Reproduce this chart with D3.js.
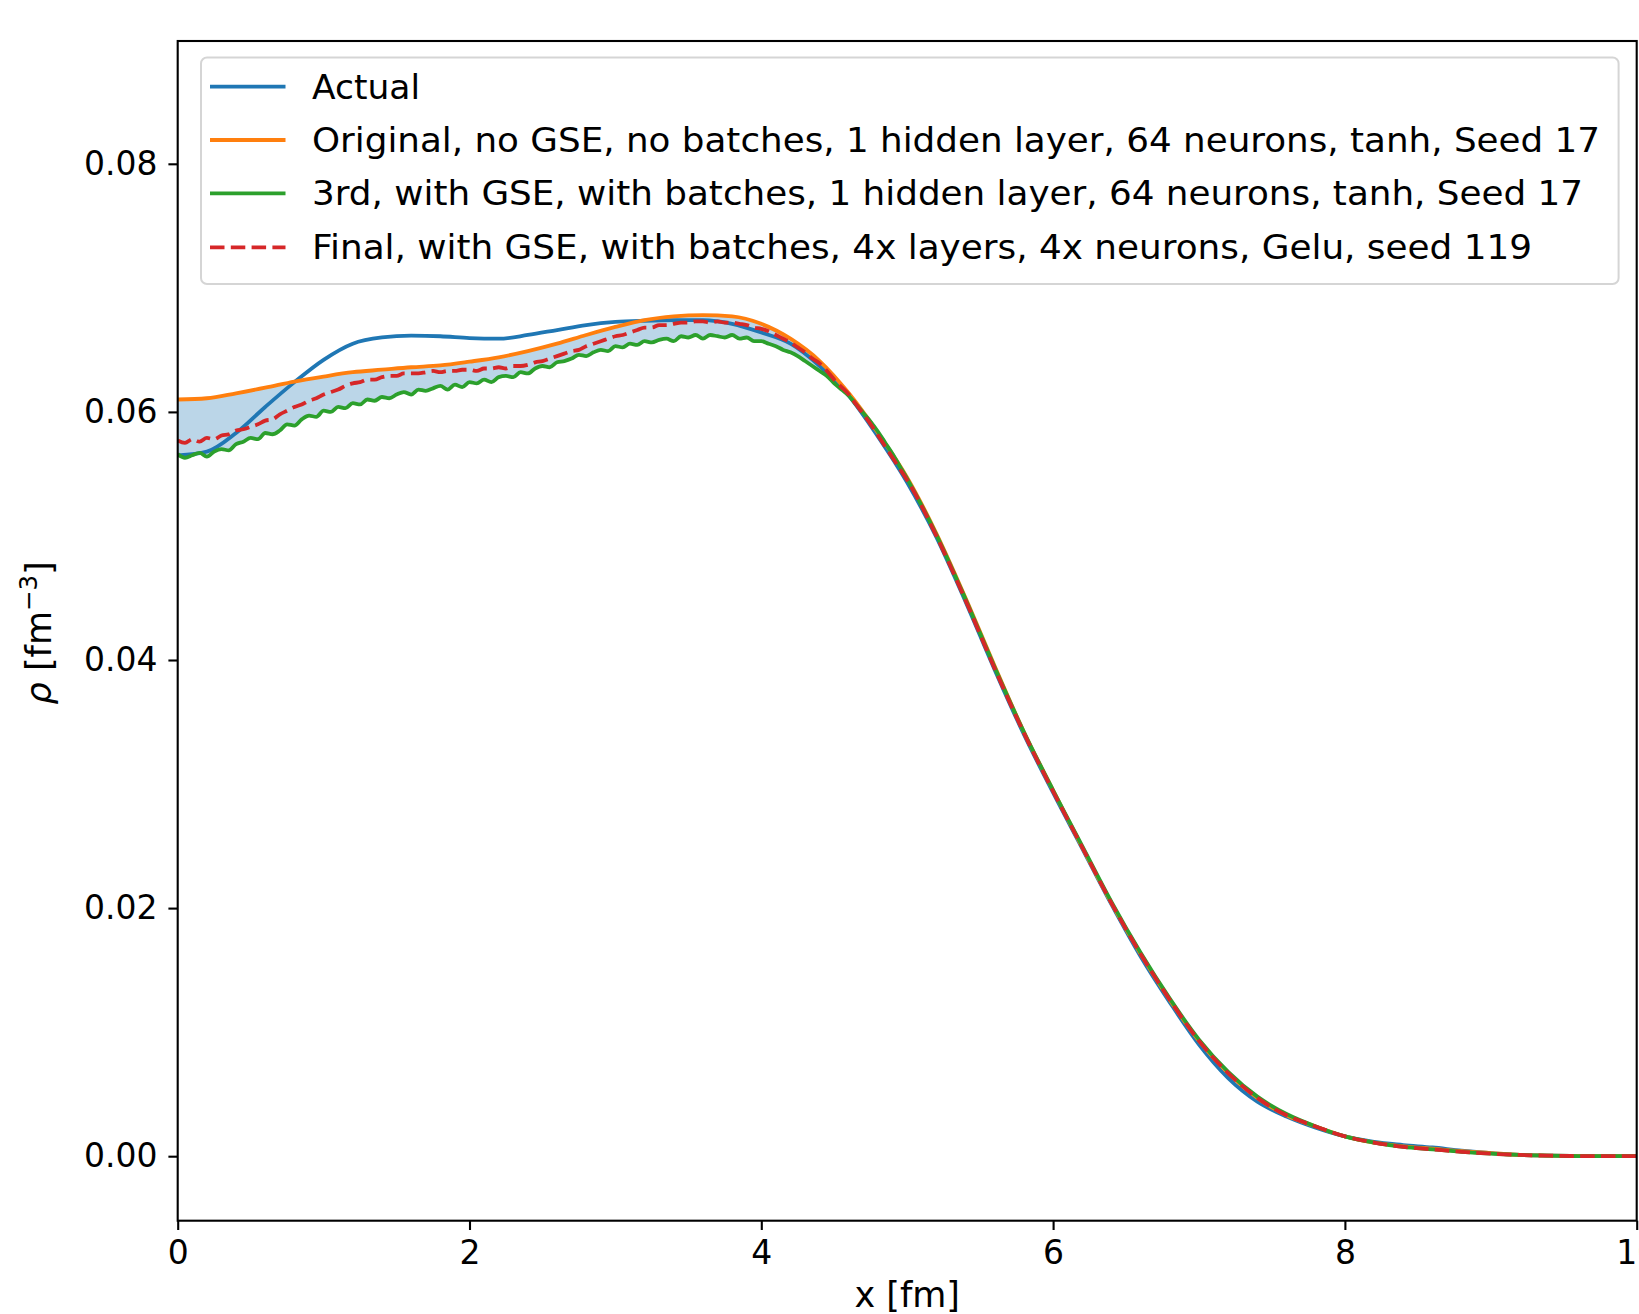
<!DOCTYPE html>
<html>
<head>
<meta charset="utf-8">
<script src="https://cdn.jsdelivr.net/npm/d3@7"></script>
<style>
  html, body { margin: 0; padding: 0; background: #fff; }
  svg { display: block; }
  text { font-family: "DejaVu Sans", sans-serif; fill: #000; }
</style>
</head>
<body>
<script>
// Nuclear density profiles rho(x): reference density and three network fits.

// Grid for the smooth curves (step 0.2 fm)
const xSmooth = d3.range(51).map(i => i * 0.2);
// Grid for the noisy fits: 0..5 fm at 0.05 fm, then 5.2..10 fm at 0.2 fm
const xFine = d3.range(101).map(i => i * 0.05).concat(d3.range(1, 26).map(i => 5 + i * 0.2));

const actual = [
  0.0565, 0.0568, 0.0583, 0.0604, 0.0624, 0.0642, 0.0655, 0.0660, 0.06615, 0.0661,
  0.06595, 0.0659, 0.0662, 0.0666, 0.0670, 0.06725, 0.06735, 0.0674, 0.0674, 0.0671,
  0.0664, 0.0655, 0.0637, 0.0613, 0.0580, 0.0543, 0.0499, 0.0447, 0.0392, 0.0340,
  0.0293, 0.0248, 0.0203, 0.0161, 0.0124, 0.0090, 0.0063, 0.0044, 0.0032, 0.0023,
  0.0016, 0.00115, 0.0009, 0.0007, 0.00045, 0.00025, 0.0001, 0.00005, 0.00002, 0.00001,
  0
];

const original = [
  0.0610, 0.0611, 0.0615, 0.06195, 0.06245, 0.06285, 0.0632, 0.0634, 0.0636, 0.06375,
  0.06405, 0.0644, 0.0649, 0.0655, 0.0662, 0.06685, 0.0674, 0.0677, 0.0678, 0.0677,
  0.0671, 0.0659, 0.0641, 0.0615, 0.0583, 0.0547, 0.0502, 0.0450, 0.0395, 0.0342,
  0.0295, 0.0249, 0.0204, 0.0163, 0.0126, 0.0093, 0.0067, 0.0047, 0.0033, 0.0024,
  0.0016, 0.0011, 0.0008, 0.0006, 0.0004, 0.00025, 0.0001, 0.00005, 0.00002, 0.00001,
  0
];

const third = [
  0.0566, 0.0563, 0.0565, 0.0567, 0.0564, 0.0568, 0.0570, 0.0569, 0.0574, 0.0576,
  0.0579, 0.0578, 0.0583, 0.0582, 0.0585, 0.0590, 0.0589, 0.0594, 0.0597, 0.0596,
  0.0601, 0.0600, 0.0604, 0.0603, 0.0607, 0.0606, 0.0610, 0.0609, 0.0612, 0.0611,
  0.0614, 0.0616, 0.0614, 0.0618, 0.0617, 0.0619, 0.0621, 0.0618, 0.0622, 0.0620,
  0.0624, 0.0623, 0.0626, 0.0624, 0.0628, 0.0629, 0.0628, 0.0632, 0.0631, 0.0635,
  0.0637, 0.0636, 0.0640, 0.0641, 0.0643, 0.0646, 0.0645, 0.0648, 0.0650, 0.0649,
  0.0653, 0.0652, 0.0655, 0.0654, 0.0657, 0.0656, 0.0658, 0.0659, 0.0657, 0.0661,
  0.0660, 0.0662, 0.0659, 0.0662, 0.0661, 0.0660, 0.0662, 0.0659, 0.0660, 0.0657,
  0.0657, 0.0655, 0.0653, 0.0650, 0.0648, 0.0645, 0.0641, 0.0637, 0.0633, 0.0629,
  0.0623, 0.0618, 0.0613, 0.0606, 0.0599, 0.0592, 0.0584, 0.0575, 0.0566, 0.0556,
  0.0546,
  0.0501, 0.0449, 0.0394, 0.0342, 0.0295, 0.0250, 0.0205, 0.0164, 0.0127, 0.0094,
  0.0068, 0.0048, 0.0034, 0.0024, 0.0016, 0.0011, 0.00075, 0.00055, 0.00035, 0.0002,
  0.0001, 0.00004, 0.00001, 0, 0
];

const finalFit = [
  0.0577, 0.0575, 0.0578, 0.0576, 0.0579, 0.0578, 0.0581, 0.0582, 0.0585, 0.0586,
  0.0588, 0.0590, 0.0593, 0.0594, 0.0598, 0.0601, 0.0604, 0.0606, 0.0609, 0.0611,
  0.0614, 0.0616, 0.0618, 0.0621, 0.0623, 0.0624, 0.0626, 0.0626, 0.0628, 0.0629,
  0.0629, 0.0631, 0.0631, 0.0631, 0.0632, 0.0633, 0.0632, 0.0633, 0.0633, 0.0634,
  0.0634, 0.0633, 0.0635, 0.0635, 0.0636, 0.0635, 0.0637, 0.0637, 0.0638, 0.0640,
  0.0641, 0.0643, 0.0645, 0.0647, 0.0649, 0.0650, 0.0653, 0.0655, 0.0657, 0.0659,
  0.0661, 0.0662, 0.0664, 0.0666, 0.0668, 0.0668, 0.0670, 0.0670, 0.0671, 0.0672,
  0.0672, 0.0673, 0.0673, 0.0672, 0.0673, 0.0672, 0.0672, 0.0671, 0.0670, 0.0668,
  0.0667, 0.0665, 0.0662, 0.0659, 0.0656, 0.0652, 0.0648, 0.0643, 0.0639, 0.0633,
  0.0626, 0.0620, 0.0614, 0.0606, 0.0598, 0.0590, 0.0581, 0.0572, 0.0563, 0.0554,
  0.0545,
  0.0500, 0.0448, 0.0393, 0.0341, 0.0294, 0.0249, 0.0204, 0.0163, 0.0126, 0.0093,
  0.0067, 0.0047, 0.0033, 0.0024, 0.0016, 0.0011, 0.00075, 0.00055, 0.00035, 0.0002,
  0.0001, 0.00004, 0.00001, 0, 0
];

const xTicks = [0, 2, 4, 6, 8, 10];
const yTicks = [0.00, 0.02, 0.04, 0.06, 0.08];

const legendLabels = [
  "Actual",
  "Original, no GSE, no batches, 1 hidden layer, 64 neurons, tanh, Seed 17",
  "3rd, with GSE, with batches, 1 hidden layer, 64 neurons, tanh, Seed 17",
  "Final, with GSE, with batches, 4x layers, 4x neurons, Gelu, seed 119"
];
const legendWidths = [108, 1288, 1271, 1220];
const colors = ["#1f77b4", "#ff7f0e", "#2ca02c", "#d62728"];

const W = 1639, H = 1314;
const plot = { left: 177.7, right: 1636.7, top: 41, bottom: 1220.7 };
const FONT_TICK = 33;
const FONT_LABEL = 35;
const FONT_LEGEND = 34.5;
const LW = 3.8;
const DASH = "14.5,6.3";

const svg = d3.select("body").append("svg").attr("width", W).attr("height", H);

const x = d3.scaleLinear().domain([0, 10]).range([plot.left, plot.right]);
const y = d3.scaleLinear().domain([-0.0052, 0.0899]).range([plot.bottom, plot.top]);

svg.append("clipPath").attr("id", "plotclip")
  .append("rect").attr("x", plot.left).attr("y", plot.top)
  .attr("width", plot.right - plot.left).attr("height", plot.bottom - plot.top);

const g = svg.append("g").attr("clip-path", "url(#plotclip)");

const pts = (xs, ys) => xs.map((v, i) => [v, ys[i]]);
const curveLine = d3.line().x(d => x(d[0])).y(d => y(d[1])).curve(d3.curveMonotoneX);
const rawLine = d3.line().x(d => x(d[0])).y(d => y(d[1]));

// Shaded band between the upper (original) and lower (3rd) fits
const upper = curveLine(pts(xSmooth, original));
const lower = rawLine(pts(xFine, third).reverse());
g.append("path")
  .attr("d", upper + "L" + lower.slice(1) + "Z")
  .attr("fill", "#1f77b4").attr("fill-opacity", 0.3).attr("stroke", "none");

g.append("path").attr("d", curveLine(pts(xSmooth, actual)))
  .attr("fill", "none").attr("stroke", colors[0]).attr("stroke-width", LW);
g.append("path").attr("d", curveLine(pts(xSmooth, original)))
  .attr("fill", "none").attr("stroke", colors[1]).attr("stroke-width", LW);
g.append("path").attr("d", curveLine(pts(xFine, third)))
  .attr("fill", "none").attr("stroke", colors[2]).attr("stroke-width", LW)
  .attr("stroke-linejoin", "round");
g.append("path").attr("d", curveLine(pts(xFine, finalFit)))
  .attr("fill", "none").attr("stroke", colors[3]).attr("stroke-width", LW)
  .attr("stroke-dasharray", DASH);

// Axes
const xAxis = d3.axisBottom(x).tickValues(xTicks).tickFormat(d3.format("d"))
  .tickSize(9.3).tickPadding(11);
const yAxis = d3.axisLeft(y).tickValues(yTicks).tickFormat(d3.format(".2f"))
  .tickSize(9.3).tickPadding(11);

const gx = svg.append("g").attr("transform", `translate(0,${plot.bottom})`).call(xAxis);
const gy = svg.append("g").attr("transform", `translate(${plot.left},0)`).call(yAxis);
[gx, gy].forEach(a => {
  a.select(".domain").remove();
  a.selectAll(".tick line").attr("stroke", "#000").attr("stroke-width", 2.1);
  a.selectAll(".tick text").attr("font-size", FONT_TICK).attr("font-family", "DejaVu Sans").attr("fill", "#000");
});

// Frame
svg.append("rect")
  .attr("x", plot.left).attr("y", plot.top)
  .attr("width", plot.right - plot.left).attr("height", plot.bottom - plot.top)
  .attr("fill", "none").attr("stroke", "#000").attr("stroke-width", 2.1);

// Axis labels
svg.append("text")
  .attr("x", (plot.left + plot.right) / 2).attr("y", 1307)
  .attr("text-anchor", "middle").attr("font-size", FONT_LABEL)
  .text("x [fm]");

const yl = svg.append("text")
  .attr("transform", `translate(51,${(plot.top + plot.bottom) / 2 + 2}) rotate(-90)`)
  .attr("text-anchor", "middle").attr("font-size", FONT_LABEL);
yl.append("tspan").attr("font-style", "italic").text("ρ");
yl.append("tspan").text(" [fm");
yl.append("tspan").attr("font-size", FONT_LABEL * 0.7).attr("dy", -14).text("−3");
yl.append("tspan").attr("dy", 14).text("]");

// Legend
const leg = { x: 201, y: 57.5, w: 1417.6, h: 226.5 };
svg.append("rect")
  .attr("x", leg.x).attr("y", leg.y).attr("width", leg.w).attr("height", leg.h)
  .attr("rx", 6).attr("ry", 6)
  .attr("fill", "#fff").attr("fill-opacity", 0.8)
  .attr("stroke", "#d5d5d5").attr("stroke-width", 2);

const rowY = [86.7, 140, 193.3, 247.3];
legendLabels.forEach((lab, i) => {
  const ln = svg.append("line")
    .attr("x1", 210).attr("x2", 285.5).attr("y1", rowY[i]).attr("y2", rowY[i])
    .attr("stroke", colors[i]).attr("stroke-width", LW);
  if (i === 3) ln.attr("stroke-dasharray", DASH);
  svg.append("text")
    .attr("x", 312).attr("y", rowY[i] + 12)
    .attr("font-size", FONT_LEGEND)
    .attr("textLength", legendWidths[i])
    .attr("lengthAdjust", "spacingAndGlyphs")
    .text(lab);
});
</script>
</body>
</html>
